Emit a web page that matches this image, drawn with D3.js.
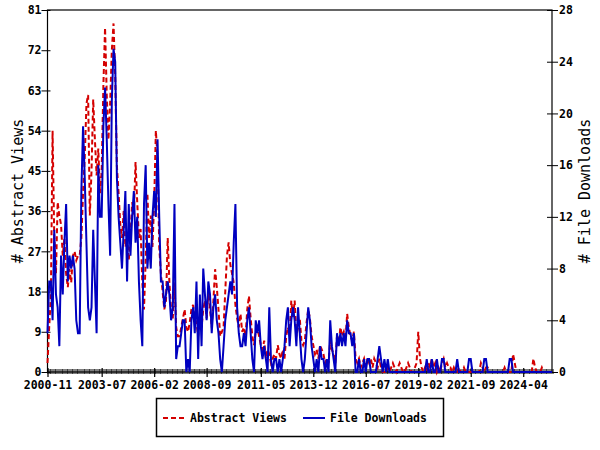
<!DOCTYPE html>
<html>
<head>
<meta charset="utf-8">
<script src="https://cdn.jsdelivr.net/npm/d3@7"></script>
<style>
  body { margin: 0; background: #fff; }
  svg text { font-family: "DejaVu Sans Mono", "Liberation Mono", monospace; }
</style>
</head>
<body>
<div id="chart"></div>
<script>
// monthly series, first month 2000-11
var startYear = 2000, startMonth = 11;

var abstractViews = [
  2, 10, 17, 54, 30, 22, 38, 35, 33, 26, 30, 22, 19, 23, 20, 26, 27, 25, 26, 26,
  30, 40, 48, 60, 62, 35, 45, 61, 52, 44, 50, 40, 45, 64, 77, 62, 52, 60, 72, 78,
  66, 46, 40, 33, 30, 36, 28, 30, 25, 30, 38, 35, 47, 38, 30, 32, 20, 14, 25, 40,
  30, 35, 28, 38, 54, 48, 28, 22, 18, 14, 16, 30, 20, 14, 12, 20, 10, 8, 8, 10,
  12, 14, 10, 9, 11, 14, 15, 12, 11, 8, 12, 10, 14, 16, 12, 18, 14, 10, 16, 23,
  19, 14, 8, 9, 10, 18, 26, 29, 24, 22, 20, 15, 12, 10, 13, 9, 10, 8, 14, 17,
  12, 8, 6, 9, 10, 8, 6, 5, 7, 3, 5, 4, 2, 3, 4, 3, 6, 4, 3, 5,
  3, 8, 10, 8, 16, 12, 16, 8, 10, 12, 7, 6, 7, 11, 14, 12, 8, 6, 4, 5,
  3, 6, 5, 4, 2, 3, 2, 7, 5, 4, 2, 8, 6, 10, 8, 9, 7, 13, 10, 8,
  7, 9, 3, 2, 3, 1, 2, 3, 1, 3, 2, 3, 1, 3, 2, 1, 3, 1, 0, 0,
  0, 1, 0, 1, 2, 1, 0, 1, 2, 1, 0, 0, 1, 2, 1, 0, 0, 1, 2, 9,
  3, 1, 0, 1, 0, 2, 1, 3, 1, 2, 0, 1, 0, 2, 3, 1, 2, 1, 1, 0,
  1, 0, 0, 1, 0, 0, 1, 0, 0, 0, 0, 0, 0, 0, 0, 0, 2, 1, 0, 1,
  1, 0, 0, 0, 0, 0, 0, 0, 0, 0, 1, 0, 0, 0, 0, 4, 2, 0, 0, 0,
  0, 0, 0, 0, 0, 0, 0, 3, 1, 0, 0, 0, 1, 0, 0, 0, 0, 0, 0
];

var fileDownloads = [
  3, 7, 7, 4, 11, 6, 5, 2, 9, 6, 10, 13, 7, 9, 8, 9, 8, 4, 3, 3,
  14, 19, 15, 10, 5, 4, 5, 11, 7, 3, 16, 12, 12, 19, 22, 18, 13, 9, 21, 25,
  24, 15, 12, 10, 8, 11, 14, 7, 13, 9, 12, 14, 10, 12, 7, 4, 2, 13, 16, 8,
  10, 8, 12, 14, 12, 18, 12, 7, 7, 5, 6, 7, 6, 4, 5, 13, 1, 2, 2, 3,
  4, 4, 0, 1, 0, 4, 5, 3, 7, 1, 6, 2, 8, 6, 4, 7, 6, 3, 5, 6,
  4, 3, 1, 0, 2, 4, 5, 6, 7, 6, 10, 13, 5, 3, 2, 2, 3, 2, 4, 5,
  3, 1, 0, 4, 3, 4, 2, 1, 2, 1, 0, 5, 1, 0, 1, 1, 0, 1, 0, 1,
  2, 4, 5, 2, 4, 5, 4, 2, 5, 3, 1, 0, 1, 3, 5, 4, 2, 1, 0, 1,
  0, 2, 1, 1, 0, 1, 0, 4, 2, 1, 0, 3, 2, 3, 2, 3, 2, 4, 3, 3,
  2, 3, 0, 0, 1, 0, 0, 1, 0, 1, 1, 0, 0, 0, 0, 1, 2, 1, 0, 1,
  0, 1, 0, 0, 0, 0, 0, 0, 0, 0, 0, 0, 0, 0, 0, 0, 0, 0, 0, 0,
  0, 0, 0, 0, 1, 0, 0, 1, 0, 0, 1, 0, 0, 1, 1, 0, 0, 0, 0, 0,
  0, 0, 1, 0, 0, 0, 0, 0, 0, 1, 1, 0, 0, 0, 0, 0, 0, 0, 1, 1,
  0, 0, 0, 0, 0, 0, 0, 0, 0, 0, 0, 0, 0, 1, 1, 0, 0, 0, 0, 0,
  0, 0, 0, 0, 0, 0, 0, 0, 0, 0, 0, 0, 0, 0, 0, 0, 0, 0, 0
];

var tickLabels = ["2000-11", "2003-07", "2006-02", "2008-09", "2011-05",
  "2013-12", "2016-07", "2019-02", "2021-09", "2024-04"];
var leftTicks = [0, 9, 18, 27, 36, 45, 54, 63, 72, 81];
var rightTicks = [0, 4, 8, 12, 16, 20, 24, 28];

var svg = d3.select("#chart").append("svg").attr("width", 600).attr("height", 450),
  margin = {top: 10, right: 48, bottom: 78, left: 47.5},
  width = 600 - margin.left - margin.right,
  height = 450 - margin.top - margin.bottom,
  g = svg.append("g").attr("transform", "translate(" + margin.left + "," + margin.top + ")");

svg.insert("rect", ":first-child").attr("width", 600).attr("height", 450).attr("fill", "#fff");

var n = abstractViews.length;
var x = d3.scaleLinear().domain([0, n - 1]).range([0, width]);
var yLeft = d3.scaleLinear().domain([0, 81]).range([height, 0]);
var yRight = d3.scaleLinear().domain([0, 28]).range([height, 0]);

function monthIndex(label) {
  var p = label.split("-");
  return (+p[0] - startYear) * 12 + (+p[1] - startMonth);
}

// monthly minor ticks
g.append("g")
  .selectAll("line")
  .data(d3.range(n))
  .enter().append("line")
  .attr("x1", function (d) { return Math.round(x(d)) + 0.5; })
  .attr("x2", function (d) { return Math.round(x(d)) + 0.5; })
  .attr("y1", height - 3)
  .attr("y2", height + 2)
  .attr("stroke", "#000")
  .attr("stroke-width", 1);

var xAxis = g.append("g")
  .attr("transform", "translate(0," + height + ")")
  .call(d3.axisBottom(x)
    .tickValues(tickLabels.map(monthIndex))
    .tickFormat(function (d, i) { return tickLabels[i]; })
    .tickSize(5)
    .tickSizeOuter(0));
xAxis.select(".domain").remove();
xAxis.selectAll(".tick line").attr("y1", -4).attr("y2", 5).attr("stroke-width", 1.2);
xAxis.selectAll("text").attr("dy", "0.71em").attr("y", 9)
  .style("font-size", "11.5px").style("font-weight", "bold").attr("fill", "#000");

var leftAxis = g.append("g")
  .call(d3.axisLeft(yLeft).tickValues(leftTicks).tickSize(6).tickSizeOuter(0));
leftAxis.select(".domain").remove();
leftAxis.selectAll(".tick line").attr("x1", 3);
leftAxis.selectAll("text").attr("x", -6)
  .style("font-size", "11.5px").style("font-weight", "bold").attr("fill", "#000");

var rightAxis = g.append("g")
  .attr("transform", "translate(" + width + ",0)")
  .call(d3.axisRight(yRight).tickValues(rightTicks).tickSize(6).tickSizeOuter(0));
rightAxis.select(".domain").remove();
rightAxis.selectAll(".tick line").attr("x1", -5);
rightAxis.selectAll("text").attr("x", 7)
  .style("font-size", "11.5px").style("font-weight", "bold").attr("fill", "#000");

// frame
g.append("rect")
  .attr("x", 0).attr("y", 0)
  .attr("width", width).attr("height", height)
  .attr("fill", "none").attr("stroke", "#000").attr("stroke-width", 1.2);

var lineViews = d3.line()
  .x(function (d, i) { return x(i); })
  .y(function (d) { return yLeft(d); });
var lineDownloads = d3.line()
  .x(function (d, i) { return x(i); })
  .y(function (d) { return yRight(d); });

g.append("path")
  .datum(abstractViews)
  .attr("d", lineViews)
  .attr("fill", "none")
  .attr("stroke", "#d40000")
  .attr("stroke-width", 2)
  .attr("stroke-dasharray", "5,3");

g.append("path")
  .datum(fileDownloads)
  .attr("d", lineDownloads)
  .attr("fill", "none")
  .attr("stroke", "#0000c0")
  .attr("stroke-width", 2);

// axis titles
svg.append("text")
  .attr("transform", "translate(23," + (margin.top + height / 2) + ") rotate(-90)")
  .attr("text-anchor", "middle")
  .style("font-size", "15px")
  .text("# Abstract Views");

svg.append("text")
  .attr("transform", "translate(590," + (margin.top + height / 2) + ") rotate(-90)")
  .attr("text-anchor", "middle")
  .style("font-size", "15px")
  .text("# File Downloads");

// legend
var legend = svg.append("g");
legend.append("rect")
  .attr("x", 156.5).attr("y", 398.5)
  .attr("width", 287).attr("height", 38)
  .attr("fill", "#fff").attr("stroke", "#000").attr("stroke-width", 1.5);

legend.append("line")
  .attr("x1", 163).attr("x2", 184).attr("y1", 418).attr("y2", 418)
  .attr("stroke", "#d40000").attr("stroke-width", 2).attr("stroke-dasharray", "5,3");
legend.append("text")
  .attr("x", 190).attr("y", 422)
  .style("font-size", "11.5px").style("font-weight", "bold")
  .text("Abstract Views");

legend.append("line")
  .attr("x1", 303).attr("x2", 325).attr("y1", 418).attr("y2", 418)
  .attr("stroke", "#0000c0").attr("stroke-width", 2);
legend.append("text")
  .attr("x", 330).attr("y", 422)
  .style("font-size", "11.5px").style("font-weight", "bold")
  .text("File Downloads");
</script>
</body>
</html>
